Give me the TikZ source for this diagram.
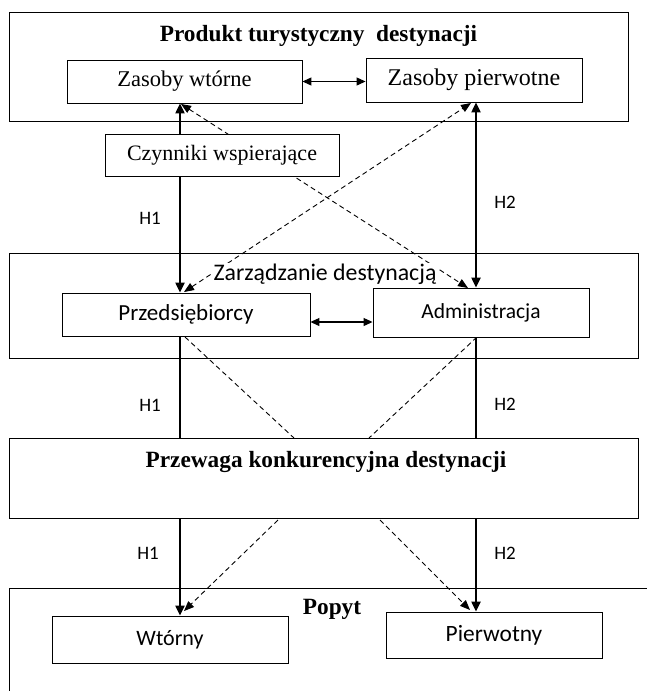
\documentclass[tikz,border=0pt]{standalone}
\usepackage{fontspec}
\setmainfont{Liberation Serif}
\newfontfamily\calibrifont{Carlito}
\usetikzlibrary{arrows.meta}
\pgfdeclarelayer{bg}
\pgfsetlayers{bg,main}
\begin{document}
\begin{tikzpicture}[x=1pt,y=-1pt,
  box/.style={draw,line width=0.9pt,inner sep=0pt,fill=white},
  frame/.style={draw,line width=0.9pt},
  ser/.style={font=\fontsize{22.5}{26}\selectfont},
  sans/.style={font=\calibrifont\fontsize{23}{26}\selectfont},
  ttl/.style={font=\bfseries\fontsize{23.3}{26}\selectfont},
  lab/.style={font=\calibrifont\fontsize{19}{22}\selectfont},
  solidarrow/.style={line width=2.2pt,-{Triangle[length=10pt,width=9pt]}},
  soliddbl/.style={line width=2.2pt,{Triangle[length=10pt,width=9pt]}-{Triangle[length=10pt,width=9pt]}},
  solidline/.style={line width=2.2pt},
  dasharrow/.style={line width=0.9pt,dash pattern=on 5pt off 3.5pt,-{Triangle[length=10pt,width=8pt]}},
  dashdbl/.style={line width=0.9pt,dash pattern=on 5pt off 3.5pt,{Triangle[length=10pt,width=8pt]}-{Triangle[length=10pt,width=8pt]}},
  dashline/.style={line width=0.9pt,dash pattern=on 5pt off 3.5pt},
  dbl/.style={line width=1.1pt,{Triangle[length=9pt,width=8pt]}-{Triangle[length=9pt,width=8pt]}}]
\useasboundingbox (0,0) rectangle (646,691);
\begin{pgfonlayer}{bg}
\fill[white] (0,0) rectangle (646,691);
\end{pgfonlayer}
% group frames
\draw[frame] (9,12) rectangle (628,121);
\node[ttl] (t1) at (318.5,36) {Produkt turystyczny\ \ destynacji};
\draw[frame] (9,253) rectangle (638,358);
\node[sans,fill=white,inner sep=0.5pt,font=\calibrifont\fontsize{23.8}{26}\selectfont] (t2) at (325,274) {Zarządzanie destynacją};
\draw[frame] (9,438) rectangle (638,518);
\node[ttl] (t3) at (326,462) {Przewaga konkurencyjna destynacji};
\draw[frame] (660,588) -- (9,588) -- (9,700);
\node[ttl] (t4) at (332,609) {Popyt};
% inner boxes
\node[box,ser,minimum width=235pt,minimum height=43pt] (zw) at (184.5,81.5) {Zasoby wtórne};
\node[box,ser,font=\fontsize{24}{27}\selectfont,minimum width=216pt,minimum height=44pt] (zp) at (474,80) {Zasoby pierwotne};
\node[box,ser,font=\fontsize{22}{25}\selectfont,minimum width=234pt,minimum height=42pt] (cz) at (222,155) {Czynniki wspierające};
\node[box,sans,minimum width=248pt,minimum height=43pt] (pr) at (186,314.5) {Przedsiębiorcy};
\node[box,sans,font=\calibrifont\fontsize{21.5}{24}\selectfont,minimum width=216pt,minimum height=49pt] (ad) at (481,312.5) {Administracja};
\node[box,sans,font=\calibrifont\fontsize{22}{25}\selectfont,minimum width=236pt,minimum height=47pt] (wt) at (170,639.5) {Wtórny};
\node[box,sans,font=\calibrifont\fontsize{23.4}{26}\selectfont,minimum width=216pt,minimum height=46pt] (pw) at (494,635) {Pierwotny};
% connectors
\coordinate (x1) at (180,0);
\coordinate (x2) at (476,0);
\coordinate (zwd) at (181,104);
\coordinate (zpd) at (471,103);
\coordinate (prd) at (184,292);
\coordinate (add) at (468,288);
\coordinate (pb) at (185,337);
\coordinate (ab) at (477,337);
\coordinate (m1) at (294,438);
\coordinate (m2) at (369,438);
\coordinate (m0) at (180,438);
\coordinate (m3) at (476,438);
\coordinate (b0) at (180,518);
\coordinate (b3) at (476,518);
\coordinate (b1) at (278,520);
\coordinate (b2) at (380,520);
\coordinate (wd) at (184,611);
\coordinate (pd) at (470,610);
\begin{pgfonlayer}{bg}
\draw[dbl] (zw.east) -- (zp.west |- zw.east);
\draw[dbl] (pr.east |- 0,322) -- (ad.west |- 0,322);
\draw[solidarrow] (cz.center -| x1) -- (zw.south -| x1);
\draw[solidarrow] (cz.center -| x1) -- (pr.north -| x1);
\draw[soliddbl] (zp.south -| x2) -- (ad.north -| x2);
\draw[dashdbl] (zwd) -- (add);
\draw[dashdbl] (prd) -- (zpd);
\draw[solidline] (pr.south -| x1) -- (m0);
\draw[solidline] (ad.south -| x2) -- (m3);
\draw[dashline] (pb) -- (m1);
\draw[dashline] (ab) -- (m2);
\draw[solidarrow] (b0) -- (wt.north -| x1);
\draw[solidarrow] (b3) -- (pw.north -| x2);
\draw[dasharrow] (b1) -- (wd);
\draw[dasharrow] (b2) -- (pd);
\end{pgfonlayer}
% labels
\node[lab] (h1a) at (150,218) {H1};
\node[lab] (h2a) at (505,202) {H2};
\node[lab] (h1b) at (150,405) {H1};
\node[lab] (h2b) at (505,404) {H2};
\node[lab] (h1c) at (148,553) {H1};
\node[lab] (h2c) at (505,553) {H2};
\end{tikzpicture}
\end{document}
